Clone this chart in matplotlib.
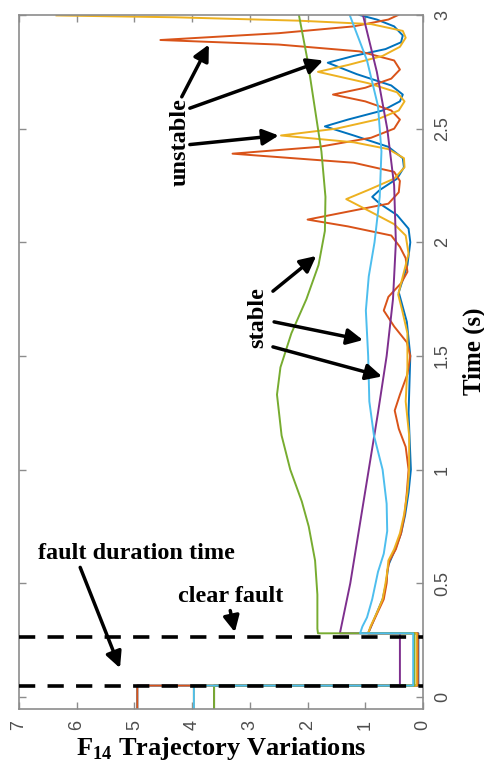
import matplotlib
matplotlib.use('Agg')
import matplotlib.pyplot as plt

plt.rcParams['mathtext.fontset'] = 'custom'
plt.rcParams['mathtext.rm'] = 'Liberation Serif:bold'
plt.rcParams['mathtext.bf'] = 'Liberation Serif:bold'

#%%
# fault on / fault cleared times (s)
t_start = -0.06
t_fault = 0.05
t_clear = 0.28

# F14 before the fault, and during the fault
pre_vals = {'blue': 4.95, 'orange': 4.95, 'yellow': 3.97, 'purple': 3.62, 'green': 3.62, 'lblue': 3.97}
fault_vals = {'blue': 0.08, 'orange': 0.09, 'yellow': 0.11, 'purple': 0.40, 'green': 0.15, 'lblue': 0.17}

# after clearing
blue_t = [0.28, 0.31, 0.37, 0.43, 0.5, 0.58, 0.65, 0.72, 0.8, 0.9, 1.0, 1.25, 1.5, 1.65, 1.78, 1.9, 2.0,
          2.06, 2.12, 2.17, 2.2, 2.23, 2.28, 2.33, 2.37, 2.42, 2.47, 2.51, 2.54, 2.58, 2.62, 2.65,
          2.69, 2.74, 2.79, 2.82, 2.85, 2.88, 2.91, 2.95, 2.98, 3.0]
blue_f = [0.95, 0.9, 0.8, 0.7, 0.64, 0.6, 0.48, 0.38, 0.31, 0.25, 0.21, 0.25, 0.22, 0.28, 0.42, 0.27, 0.22,
          0.25, 0.45, 0.75, 0.88, 0.75, 0.45, 0.33, 0.35, 0.6, 1.2, 1.7, 1.3, 0.7, 0.4, 0.35,
          0.55, 1.15, 1.65, 1.2, 0.65, 0.38, 0.35, 0.5, 0.8, 1.1]

orange_t = [0.28, 0.31, 0.37, 0.43, 0.5, 0.55, 0.6, 0.65, 0.72, 0.8, 0.9, 1.0, 1.1, 1.18, 1.26, 1.33, 1.42,
            1.5, 1.56, 1.63, 1.7, 1.76, 1.82, 1.87, 1.93, 1.98, 2.03, 2.07, 2.10, 2.14, 2.17, 2.22,
            2.27, 2.31, 2.35, 2.39, 2.42, 2.46, 2.5, 2.54, 2.58, 2.62, 2.65, 2.68, 2.72, 2.76,
            2.8, 2.84, 2.87, 2.89, 2.92, 2.95, 2.98, 3.0]
orange_f = [0.95, 0.9, 0.79, 0.68, 0.63, 0.62, 0.58, 0.47, 0.38, 0.32, 0.28, 0.25, 0.3, 0.42, 0.49, 0.4, 0.27,
            0.22, 0.28, 0.5, 0.68, 0.6, 0.38, 0.27, 0.3, 0.4, 0.55, 1.3, 2.0, 1.2, 0.6, 0.42,
            0.4, 0.5, 1.2, 3.3, 1.8, 0.9, 0.5, 0.4, 0.55, 1.0, 1.56, 1.0, 0.55, 0.4,
            0.5, 1.1, 2.5, 4.55, 2.5, 1.2, 0.6, 0.43]

yellow_t = [0.28, 0.31, 0.37, 0.43, 0.5, 0.55, 0.6, 0.65, 0.72, 0.8, 0.9, 1.0, 1.15, 1.3, 1.45, 1.6, 1.7,
            1.77, 1.85, 1.95, 2.03, 2.08, 2.14, 2.19, 2.23, 2.28, 2.33, 2.37, 2.41, 2.44, 2.47, 2.5,
            2.54, 2.58, 2.62, 2.66, 2.7, 2.75, 2.78, 2.82, 2.86, 2.9, 2.93, 2.96, 2.975, 2.99, 2.998]
yellow_f = [0.95, 0.91, 0.8, 0.7, 0.65, 0.62, 0.6, 0.5, 0.4, 0.33, 0.27, 0.24, 0.24, 0.3, 0.27, 0.27, 0.36,
            0.43, 0.35, 0.25, 0.3, 0.5, 0.95, 1.33, 0.95, 0.5, 0.32, 0.33, 0.6, 1.2, 2.46, 1.5,
            0.8, 0.42, 0.32, 0.45, 0.95, 1.82, 1.3, 0.7, 0.4, 0.3, 0.35, 0.9, 2.15, 4.3, 6.35]

purple_t = [0.28, 0.5, 0.75, 1.0, 1.25, 1.5, 1.75, 2.0, 2.25, 2.5, 2.75, 3.0]
purple_f = [1.44, 1.26, 1.1, 0.94, 0.78, 0.63, 0.52, 0.47, 0.5, 0.62, 0.8, 1.04]

green_t = [0.28, 0.3, 0.45, 0.6, 0.75, 0.86, 1.0, 1.15, 1.33, 1.45, 1.6, 1.75, 1.9, 2.05, 2.2, 2.4, 2.6, 2.8, 3.0]
green_f = [1.82, 1.83, 1.83, 1.87, 1.98, 2.1, 2.3, 2.45, 2.53, 2.47, 2.28, 2.02, 1.81, 1.70, 1.69, 1.76, 1.88, 2.0, 2.15]

lblue_t = [0.28, 0.31, 0.35, 0.43, 0.55, 0.63, 0.73, 0.85, 1.0, 1.15, 1.3, 1.5, 1.7, 1.85, 2.0, 2.2, 2.4, 2.6, 2.8, 3.0]
lblue_f = [1.09, 1.05, 0.97, 0.88, 0.78, 0.68, 0.62, 0.63, 0.7, 0.85, 0.93, 0.95, 0.99, 0.94, 0.84, 0.75, 0.72, 0.78, 0.97, 1.27]

x_ticks = [0, 1, 2, 3, 4, 5, 6, 7]
y_ticks = [0, 0.5, 1, 1.5, 2, 2.5, 3]
y_ticklabels = ['0', '0.5', '1', '1.5', '2', '2.5', '3']

colors = {'blue': '#0072BD', 'orange': '#D95319', 'yellow': '#EDB120',
          'purple': '#7E2F8E', 'green': '#77AC30', 'lblue': '#4DBEEE'}
post = {'blue': (blue_t, blue_f), 'orange': (orange_t, orange_f), 'yellow': (yellow_t, yellow_f),
        'purple': (purple_t, purple_f), 'green': (green_t, green_f), 'lblue': (lblue_t, lblue_f)}

#%%
fig = plt.figure(figsize=(4.85, 7.62), dpi=100)
ax = fig.add_axes([19/485, 53/762, 404/485, 694/762])

for name in ['blue', 'orange', 'yellow', 'purple', 'green', 'lblue']:
    tt, ff = post[name]
    t = [t_start, t_fault, t_fault, t_clear] + tt
    f = [pre_vals[name], pre_vals[name], fault_vals[name], fault_vals[name]] + ff
    # time runs up the page, F14 runs right-to-left
    ax.plot(f, t, color=colors[name], lw=1.4, zorder=2)

for tl in [0.048, 0.265]:
    ax.axhline(tl, color='k', lw=2.6, linestyle=(0, (4.5, 3.4)), zorder=3)

ax.set_xlim(7, 0)
ax.set_ylim(-0.053, 3.0)
ax.set_xticks(x_ticks)
ax.set_xticklabels([str(v) for v in x_ticks])
ax.set_yticks(y_ticks)
ax.set_yticklabels(y_ticklabels)
ax.tick_params(direction='in', top=True, bottom=True, left=True, right=True,
               labelleft=False, labelright=True, length=5, width=1,
               color='#8c8c8c', labelcolor='#4d4d4d', labelsize=13)
ax.tick_params(axis='x', pad=8)
ax.tick_params(axis='y', pad=8)
for lab in ax.get_xticklabels():
    lab.set_rotation(90)
    lab.set_fontfamily('Liberation Sans')
for lab in ax.get_yticklabels():
    lab.set_rotation(90)
    lab.set_va('center')
    lab.set_fontfamily('Liberation Sans')
for s in ax.spines.values():
    s.set_color('#8c8c8c')
    s.set_linewidth(1.2)

serif = dict(family='Liberation Serif', weight='bold', color='k')
fig.text(221/485, 1 - 748/762, r'F$_{\mathbf{14}}$ Trajectory Variations', ha='center', va='center', fontsize=19, **serif)
fig.text(474/485, 1 - 351/762, 'Time (s)', rotation=90, ha='center', va='center', fontsize=18, **serif)

# annotations
ax.text(4.2, 2.44, 'unstable', rotation=90, ha='center', va='center', fontsize=17.5, **serif)
ax.text(2.86, 1.67, 'stable', rotation=90, ha='center', va='center', fontsize=17.5, **serif)
ax.text(4.97, 0.63, 'fault duration time', ha='center', va='center', fontsize=17.5, **serif)
ax.text(3.34, 0.44, 'clear fault', ha='center', va='center', fontsize=17.5, **serif)

arrows = [((4.18, 2.64), (3.71, 2.87)), ((4.04, 2.59), (1.73, 2.80)), ((4.04, 2.43), (2.50, 2.47)),
          ((2.60, 1.785), (1.85, 1.94)), ((2.58, 1.65), (1.04, 1.57)), ((2.60, 1.54), (0.71, 1.41)),
          ((5.94, 0.57), (5.25, 0.127)), ((3.34, 0.38), (3.26, 0.285))]
for start, tip in arrows:
    ax.annotate('', xy=tip, xytext=start,
                arrowprops=dict(arrowstyle='-|>,head_length=0.6,head_width=0.3', color='k',
                                lw=2.5, mutation_scale=16, shrinkA=0, shrinkB=0), zorder=4)

fig.savefig('out.png', dpi=100, facecolor='white')
